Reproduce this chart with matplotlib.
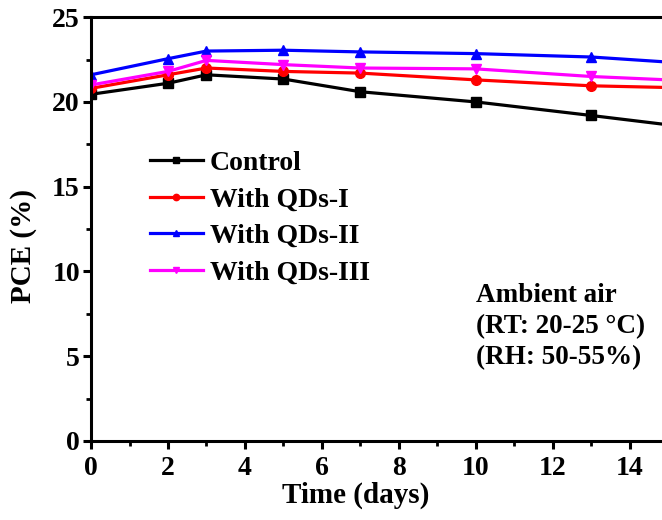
import matplotlib.pyplot as plt
from matplotlib.ticker import MultipleLocator

plt.rcParams['font.family'] = ['Liberation Serif', 'DejaVu Serif']
plt.rcParams['font.weight'] = 'bold'

days = [0, 2, 3, 5, 7, 10, 13, 15]
control = [20.45, 21.1, 21.6, 21.35, 20.6, 20.0, 19.2, 18.65]
qds_1 = [20.8, 21.6, 22.0, 21.8, 21.7, 21.3, 20.95, 20.85]
qds_2 = [21.6, 22.55, 23.0, 23.05, 22.95, 22.85, 22.65, 22.35]
qds_3 = [21.0, 21.8, 22.45, 22.2, 22.0, 21.95, 21.5, 21.3]

labels = ['Control', 'With QDs-I', 'With QDs-II', 'With QDs-III']
colors = ['black', 'red', 'blue', 'magenta']
markers = ['s', 'o', '^', 'v']

fig = plt.figure(figsize=(6.62, 5.2), dpi=100)
ax = fig.add_axes([0.1375, 0.152, 0.8625, 0.815])

for vals, lab, c, m in zip([control, qds_1, qds_2, qds_3], labels, colors, markers):
    ax.plot(days, vals, color=c, marker=m, markersize=7, linewidth=2.3, label=lab)

ax.set_xlim(0, 14.84)
ax.set_ylim(0, 25)
ax.xaxis.set_major_locator(MultipleLocator(2))
ax.xaxis.set_minor_locator(MultipleLocator(1))
ax.yaxis.set_major_locator(MultipleLocator(5))
ax.yaxis.set_minor_locator(MultipleLocator(2.5))

for s in ['left', 'bottom', 'top']:
    ax.spines[s].set_linewidth(2.2)
ax.spines['right'].set_visible(False)
ax.tick_params(which='major', direction='out', length=6, width=2.2,
               labelsize=20, top=False)
ax.tick_params(axis='x', which='major', pad=5)
ax.tick_params(axis='y', which='major', pad=2)
ax.tick_params(which='minor', direction='out', length=3.5, width=2.0, top=False)

ax.set_xlabel('Time (days)', fontsize=21, fontweight='bold')
ax.set_ylabel('PCE (%)', fontsize=21, fontweight='bold')
ax.xaxis.set_label_coords(0.464, -0.097)
ax.yaxis.set_label_coords(-0.095, 0.46)

leg = ax.legend(loc='upper left', bbox_to_anchor=(0.103, 0.685), frameon=False,
                fontsize=20, handlelength=1.9, handletextpad=0.25,
                labelspacing=0.4, borderaxespad=0, borderpad=0, markerscale=0.65)
for t in leg.get_texts():
    t.set_fontweight('bold')

ax.text(0.675, 0.372, 'Ambient air\n(RT: 20-25 \u00b0C)\n(RH: 50-55%)',
        transform=ax.transAxes, fontsize=19.5, fontweight='bold',
        va='top', ha='left', linespacing=1.3)

fig.savefig('out.png', dpi=100)
